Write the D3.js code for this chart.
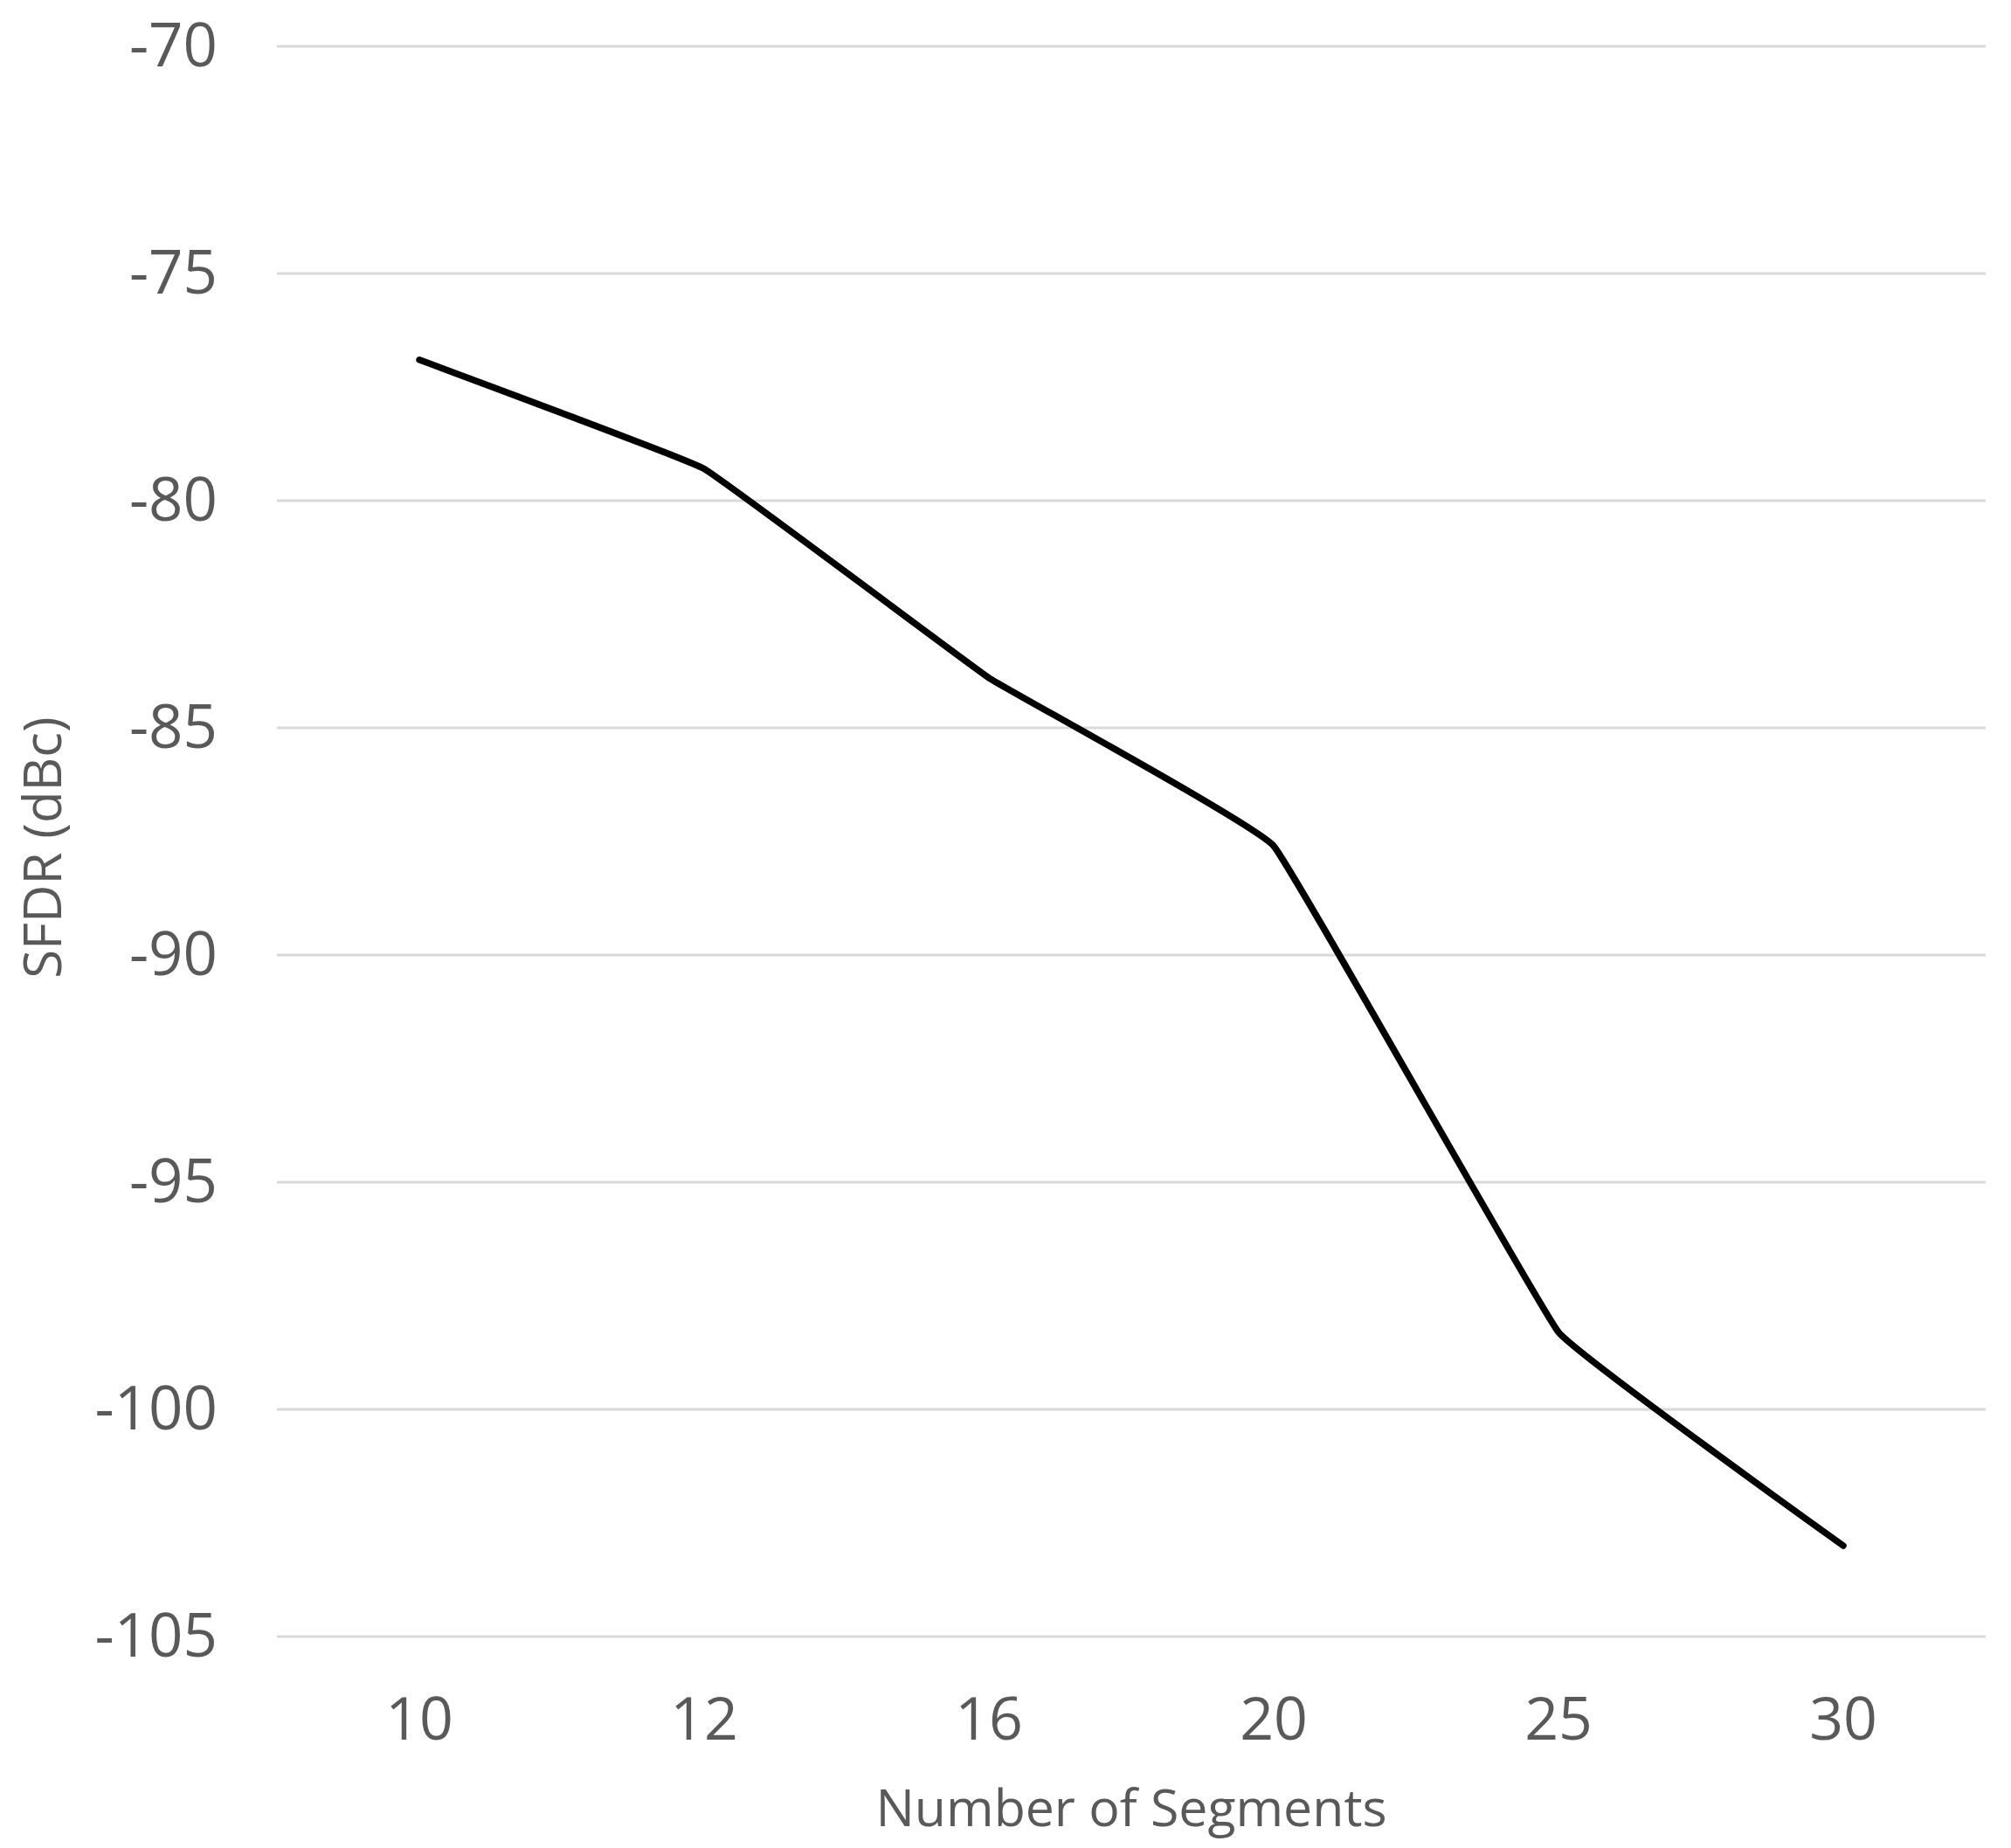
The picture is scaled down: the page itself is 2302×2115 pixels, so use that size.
<!DOCTYPE html>
<html lang="en">
<head>
    <meta charset="utf-8">
    <title>SFDR vs Number of Segments</title>
    <script src="https://d3js.org/d3.v7.min.js"></script>
    <style>
        body { margin: 0; background: #fff; }
        text { font-family: "Open Sans", sans-serif; fill: #595959; }
    </style>
</head>
<body>
<script>
    // data
    var segments = ["10", "12", "16", "20", "25", "30"];
    var sfdr = [-76.9, -79.3, -83.9, -87.6, -98.3, -103.0];
    var yTicks = [-70, -75, -80, -85, -90, -95, -100, -105];

    var width = 2302, height = 2115;
    var margin = {top: 53, right: 29, bottom: 242, left: 317};

    var svg = d3.select("body").append("svg")
        .attr("width", width)
        .attr("height", height);

    var x = d3.scaleBand()
        .domain(segments)
        .range([margin.left, width - margin.right]);

    var y = d3.scaleLinear()
        .domain([-105, -70])
        .range([height - margin.bottom, margin.top]);

    // gridlines
    svg.append("g")
        .selectAll("line")
        .data(yTicks)
        .enter()
        .append("line")
        .attr("x1", margin.left)
        .attr("x2", width - margin.right)
        .attr("y1", function(d) { return y(d); })
        .attr("y2", function(d) { return y(d); })
        .attr("stroke", "#d9d9d9")
        .attr("stroke-width", 3);

    // y axis labels (plain hyphen, like the original)
    var yAxis = svg.append("g")
        .attr("transform", "translate(" + margin.left + ",0)")
        .call(d3.axisLeft(y).tickValues(yTicks).tickSize(0).tickPadding(68)
            .tickFormat(function(d) { return String(d); }));
    yAxis.select(".domain").remove();
    yAxis.selectAll("text")
        .style("font-size", "69px")
        .attr("fill", "#595959");

    // x axis labels
    var xAxis = svg.append("g")
        .attr("transform", "translate(0," + (height - margin.bottom) + ")")
        .call(d3.axisBottom(x).tickSize(0).tickPadding(70));
    xAxis.select(".domain").remove();
    xAxis.selectAll("text")
        .style("font-size", "68px")
        .attr("fill", "#595959");

    // the line
    var line = d3.line()
        .x(function(d, i) { return x(segments[i]) + x.bandwidth() / 2; })
        .y(function(d) { return y(d); })
        .curve(d3.curveCardinal.tension(0.8));

    svg.append("path")
        .datum(sfdr)
        .attr("d", line)
        .attr("fill", "none")
        .attr("stroke", "#000")
        .attr("stroke-width", 7.5)
        .attr("stroke-linecap", "round")
        .attr("stroke-linejoin", "round");

    // axis titles
    svg.append("text")
        .attr("x", (margin.left + width - margin.right) / 2)
        .attr("y", 2090)
        .attr("text-anchor", "middle")
        .style("font-size", "59px")
        .text("Number of Segments");

    svg.append("text")
        .attr("transform", "translate(70,970) rotate(-90)")
        .attr("text-anchor", "middle")
        .style("font-size", "60px")
        .text("SFDR (dBc)");
</script>
</body>
</html>
